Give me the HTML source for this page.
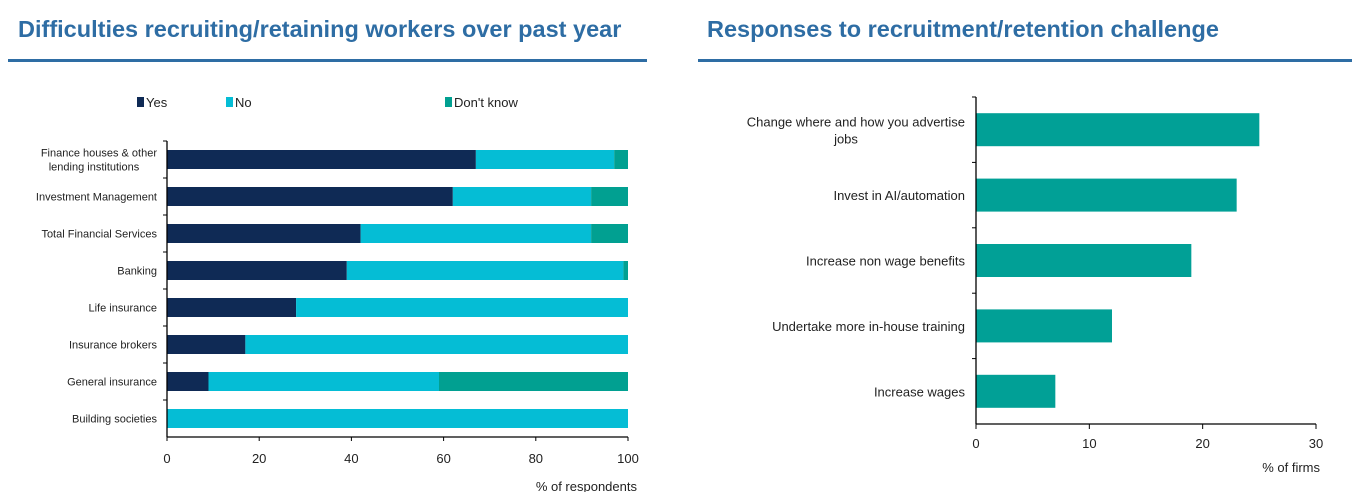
<!DOCTYPE html>
<html><head><meta charset="utf-8"><style>
body{margin:0;background:#fff;width:1363px;height:492px;overflow:hidden;font-family:"Liberation Sans",sans-serif}
svg text{font-family:"Liberation Sans",sans-serif}
</style></head><body>
<svg width="1363" height="492">
<text x="18" y="37" font-size="23.5" font-weight="bold" fill="#2e6da4">Difficulties recruiting/retaining workers over past year</text>
<rect x="8" y="59" width="639" height="3" fill="#2e6da4"/>
<text x="707" y="37" font-size="23.5" font-weight="bold" fill="#2e6da4">Responses to recruitment/retention challenge</text>
<rect x="698" y="59" width="654" height="3" fill="#2e6da4"/>
<g id="left"></g><g id="right"></g>
</svg>
<script>
const cats=["Finance houses & other|lending institutions","Investment Management","Total Financial Services","Banking","Life insurance","Insurance brokers","General insurance","Building societies"];
const yes=[67,62,42,39,28,17,9,0];
const no=[30,30,50,60,72,83,50,100];
const dk=[3,8,8,1,0,0,41,0];
const xTicks=[0,20,40,60,80,100];
const rcats=["Change where and how you advertise|jobs","Invest in AI/automation","Increase non wage benefits","Undertake more in-house training","Increase wages"];
const rvals=[25,23,19,12,7];
const rTicks=[0,10,20,30];
const NS="http://www.w3.org/2000/svg";
function mk(p,t,a,txt){const e=document.createElementNS(NS,t);for(const k in a)e.setAttribute(k,a[k]);if(txt!=null)e.textContent=txt;p.appendChild(e);return e;}
// left
const L=document.getElementById('left');
const lx=v=>167+v*4.61, plotTop=141, plotBot=437, rowH=(plotBot-plotTop)/cats.length;
const ly=i=>plotTop+rowH*(i+0.5);
const series=[["yes",yes,"#0f2a55"],["no",no,"#05bdd5"],["dont-know",dk,"#01a091"]];
const leg=[["Yes",137,"#0f2a55"],["No",226,"#05bdd5"],["Don't know",445,"#01a091"]];
leg.forEach(l=>{const g=mk(L,'g',{});


mk(g,'rect',{x:l[1],y:97,width:7,height:10,fill:l[2]});mk(g,'text',{x:l[1]+9,y:107,'font-size':13,fill:'#222'},l[0]);});
cats.forEach((c,i)=>{let acc=0;
series.forEach(s=>{const v=s[1][i];if(v>0){const r=mk(L,'rect',{x:lx(acc),y:ly(i)-9.5,width:lx(acc+v)-lx(acc),height:19,fill:s[2]});

}acc+=v;});
const parts=c.split('|');const t=mk(L,'text',{x:157,y:ly(i)+4-(parts.length-1)*7,'font-size':11,'text-anchor':'end',fill:'#222'});


parts.forEach((p,j)=>mk(t,'tspan',{x:j?(157-63):157,dy:j?14:0,'text-anchor':j?'middle':'end'},p));
mk(L,'line',{x1:163,x2:167,y1:plotTop+rowH*i,y2:plotTop+rowH*i,stroke:'#000'});});
mk(L,'line',{x1:167,x2:167,y1:plotTop,y2:plotBot,stroke:'#000','stroke-width':1.3});
mk(L,'line',{x1:167,x2:lx(100),y1:plotBot,y2:plotBot,stroke:'#000','stroke-width':1.3});
xTicks.forEach(v=>{mk(L,'line',{x1:lx(v),x2:lx(v),y1:plotBot,y2:plotBot+4,stroke:'#000'});
const t=mk(L,'text',{x:lx(v),y:463,'font-size':13,'text-anchor':'middle',fill:'#222'},v);

});
const xl=mk(L,'text',{x:637,y:491,'font-size':13,'text-anchor':'end',fill:'#222'},'% of respondents');


// right
const R=document.getElementById('right');
const rx=v=>976+v*(340/30), rTop=97, rBot=424, rH=(rBot-rTop)/rcats.length;
const ry=i=>rTop+rH*(i+0.5);
rcats.forEach((c,i)=>{const r=mk(R,'rect',{x:rx(0),y:ry(i)-16.5,width:rx(rvals[i])-rx(0),height:33,fill:'#01a096'});


const parts=c.split('|');const t=mk(R,'text',{x:965,y:ry(i)+5-(parts.length-1)*8,'font-size':13,'text-anchor':'end',fill:'#222'});


parts.forEach((p,j)=>mk(t,'tspan',{x:j?846:965,dy:j?17:0,'text-anchor':j?'middle':'end'},p));
mk(R,'line',{x1:972,x2:976,y1:rTop+rH*i,y2:rTop+rH*i,stroke:'#000'});});
mk(R,'line',{x1:976,x2:976,y1:rTop,y2:rBot,stroke:'#000','stroke-width':1.3});
mk(R,'line',{x1:976,x2:rx(30),y1:rBot,y2:rBot,stroke:'#000','stroke-width':1.3});
rTicks.forEach(v=>{mk(R,'line',{x1:rx(v),x2:rx(v),y1:rBot,y2:rBot+5,stroke:'#000'});
const t=mk(R,'text',{x:rx(v),y:448,'font-size':13,'text-anchor':'middle',fill:'#222'},v);

});
const rl=mk(R,'text',{x:1320,y:472,'font-size':13,'text-anchor':'end',fill:'#222'},'% of firms');


</script>
</body></html>
